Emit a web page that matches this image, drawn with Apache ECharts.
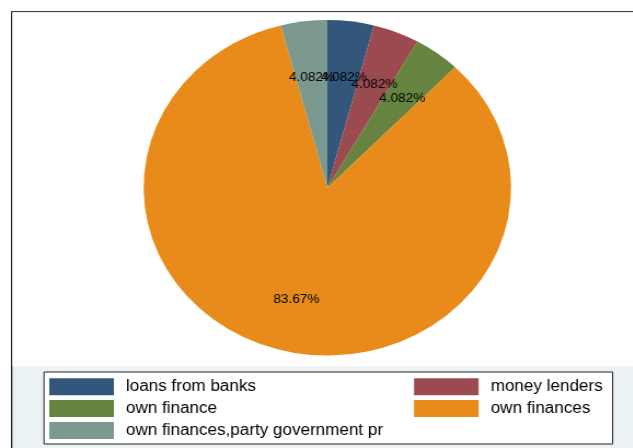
<!DOCTYPE html>
<html>
<head>
<meta charset="utf-8">
<script src="https://cdn.jsdelivr.net/npm/echarts@6/dist/echarts.min.js"></script>
<style>
html,body{margin:0;padding:0;background:#fff;overflow:hidden;width:633px;height:448px;}
#chart{width:578px;height:448px;transform:scaleX(1.0948);transform-origin:0 0;}
</style>
</head>
<body>
<div id="chart"></div>
<script>
const categories = ['loans from banks','money lenders','own finance','own finances','own finances,party government pr'];
const counts = [2, 2, 2, 41, 2];
const colors = ['#33577B', '#9B4A50', '#66843F', '#E88B1A', '#7C998F'];
const legendLeftCol = ['loans from banks','own finance','own finances,party government pr'];
const legendRightCol = ['money lenders','own finances'];

const total = counts.reduce((a, b) => a + b, 0);
const pieData = categories.map((c, i) => ({ name: c, value: counts[i], itemStyle: { color: colors[i] } }));
const labelData = categories.map((c, i) => ({ name: c, value: counts[i], itemStyle: { color: 'rgba(0,0,0,0)' } }));

const chart = echarts.init(document.getElementById('chart'), null, { renderer: 'canvas' });
const FONT = 'Liberation Sans, Arial, Helvetica, sans-serif';
const legendBase = {
  orient: 'vertical', top: 378.3, padding: 0, itemWidth: 59, itemHeight: 17, itemGap: 4.8,
  icon: 'rect', selectedMode: false,
  textStyle: { fontFamily: FONT, fontSize: 15.6, color: '#000', padding: [0, 0, 0, 6] }
};
chart.setOption({
  animation: false,
  graphic: [
    { type: 'rect', z: 0, shape: { x: 10.7, y: 11.7, width: 620, height: 500 },
      style: { fill: '#EAF2F3', stroke: '#000', lineWidth: 1.1 } },
    { type: 'rect', z: 0, shape: { x: 11.3, y: 12.3, width: 620, height: 354.2 },
      style: { fill: '#fff' } },
    { type: 'rect', z: 0, shape: { x: 40.2, y: 372, width: 519.4, height: 72 },
      style: { fill: '#fff', stroke: '#222', lineWidth: 1 } }
  ],
  legend: [
    Object.assign({}, legendBase, { left: 45, data: legendLeftCol }),
    Object.assign({}, legendBase, { left: 378.2, data: legendRightCol })
  ],
  series: [
    {
      type: 'pie', name: 'share', center: [299, 187.8], radius: [0, 167.8],
      startAngle: 90, clockwise: true, silent: true,
      label: { show: false }, labelLine: { show: false },
      itemStyle: { borderWidth: 0 },
      emphasis: { disabled: true },
      data: pieData
    },
    {
      type: 'pie', name: 'labels', center: [299.5, 190], radius: [0, 221],
      startAngle: 90, clockwise: true, silent: true, avoidLabelOverlap: false,
      labelLayout: { hideOverlap: false },
      itemStyle: { borderWidth: 0 },
      emphasis: { disabled: true },
      labelLine: { show: false },
      label: {
        show: true, position: 'inside', color: '#000', fontFamily: FONT, fontSize: 12.4,
        formatter: p => (p.value / total * 100).toPrecision(4) + '%'
      },
      data: labelData
    }
  ]
});
</script>
</body>
</html>
